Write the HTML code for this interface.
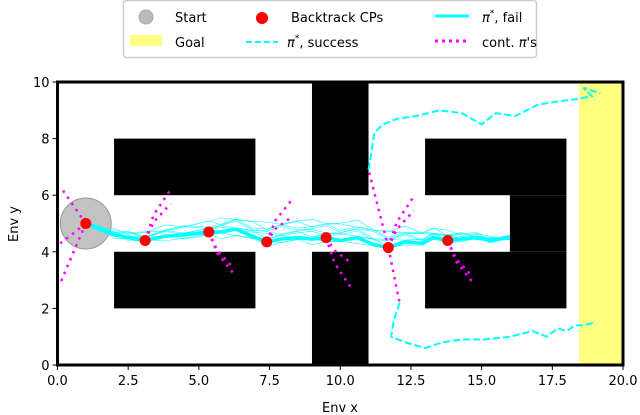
<!DOCTYPE html>
<html><head><meta charset="utf-8"><style>
body{margin:0;background:#fff;width:640px;height:415px;overflow:hidden}
svg{display:block;font-family:"DejaVu Sans","Liberation Sans",sans-serif}
</style></head><body>
<svg id="chart" width="640" height="415">
<g id="walls"></g>
<g id="marks"></g>
<g id="axes"></g>
<g>
<rect x="123.5" y="0.5" width="413" height="57" rx="3" fill="#fff" stroke="#ccc" stroke-width="1.5"/>
<circle cx="146" cy="17" r="7" fill="#bbb" stroke="#aaa"/>
<text x="175" y="22" font-size="13">Start</text>
<rect x="130" y="35" width="32" height="11" fill="#ffff80"/>
<text x="175" y="47" font-size="13">Goal</text>
<circle cx="262" cy="18" r="6" fill="red"/>
<text x="291" y="22" font-size="13">Backtrack CPs</text>
<line x1="246" y1="42" x2="278" y2="42" stroke="cyan" stroke-width="2" stroke-dasharray="6,3"/>
<text x="287" y="47" font-size="13"><tspan font-style="italic">π</tspan><tspan dy="-6" font-size="9">*</tspan><tspan dy="6">, success</tspan></text>
<line x1="435" y1="16" x2="469" y2="16" stroke="cyan" stroke-width="3"/>
<text x="482" y="22" font-size="13"><tspan font-style="italic">π</tspan><tspan dy="-6" font-size="9">*</tspan><tspan dy="6">, fail</tspan></text>
<line x1="435" y1="41" x2="469" y2="41" stroke="#f0f" stroke-width="3" stroke-dasharray="3,4"/>
<text x="482" y="47" font-size="13">cont. <tspan font-style="italic">π</tspan>'s</text>
</g>
</svg>
<script>
const xTicks=[0,2.5,5,7.5,10,12.5,15,17.5,20];
const yTicks=[0,2,4,6,8,10];
const cpX=[3.1,5.35,7.4,9.5,11.7,13.8];
const cpY=[4.4,4.7,4.35,4.5,4.15,4.4];
const failX=[1,1.5,2,2.5,3.1,3.8,4.5,5.35,5.8,6.3,6.9,7.4,7.9,8.5,9,9.5,10,10.6,11.2,11.7,12.3,12.9,13.3,13.8,14.3,14.8,15.3,16];
const failY=[5.0,4.8,4.6,4.5,4.4,4.55,4.6,4.7,4.7,4.8,4.55,4.35,4.45,4.5,4.45,4.5,4.4,4.5,4.25,4.15,4.35,4.3,4.5,4.4,4.45,4.5,4.4,4.5];
const succTopX=[11.0,11.1,11.2,11.5,12,12.7,13.5,14.3,15,15.5,16.2,17,17.6,18.4,18.9,18.6,19.2];
const succTopY=[6.9,7.5,8.2,8.5,8.7,8.8,9.0,8.9,8.5,8.9,8.8,9.2,9.3,9.4,9.5,9.8,9.6];
const succBotX=[12.1,11.9,11.8,12.3,13.0,13.6,14.3,15.1,16.0,16.8,17.3,17.7,18.0,18.3,18.6,19.0];
const succBotY=[2.2,1.6,1.0,0.8,0.6,0.8,0.9,0.9,1.0,1.2,1.0,1.3,1.2,1.4,1.4,1.5];
const thinEndsY=[6.2,5.9,5.5,5.2,4.9,4.6,4.3,4.1,5.7,5.0];
const contDY=[1.8,-1.3,1.5,-0.9];
const NS="http://www.w3.org/2000/svg";
const X0=57.5,X1=623,Y0=365,Y1=82;
const sx=v=>X0+v*(X1-X0)/20, sy=v=>Y0-v*(Y0-Y1)/10;
function mk(p,tag,a){const e=document.createElementNS(NS,tag);for(const k in a)e.setAttribute(k,a[k]);p.appendChild(e);return e;}
const W=document.getElementById('walls'),M=document.getElementById('marks'),A=document.getElementById('axes');
let g=mk(W,'rect',{x:sx(18.45),y:Y1,width:sx(20)-sx(18.45),height:Y0-Y1,fill:'#ffff80'});

const blocks=[[2,6,7,8],[2,2,7,4],[9,6,11,10],[9,0,11,4],[13,6,18,8],[13,2,18,4],[16,4,18,6]];
blocks.forEach(b=>{const r=mk(W,'rect',{x:sx(b[0]),y:sy(b[3]),width:sx(b[2])-sx(b[0]),height:sy(b[1])-sy(b[3]),fill:'#000'});
});
const pts=(xs,ys)=>xs.map((x,i)=>sx(x)+','+sy(ys[i])).join(' ');
let s=mk(M,'circle',{cx:sx(1),cy:sy(5),r:sx(0.9)-sx(0),fill:'#bbb',stroke:'#999','fill-opacity':0.9});

thinEndsY.forEach((ey,k)=>{const xs=[],ys=[];for(let i=0;i<failX.length;i++){xs.push(failX[i]);const t=i/(failX.length-1);ys.push(failY[i]+(ey-failY[i])*Math.sin(Math.PI*t)*0.35+((i+k)%3-1)*0.08);}
const l=mk(M,'polyline',{points:pts(xs,ys),fill:'none',stroke:'cyan','stroke-width':0.7,'stroke-opacity':0.8});
});
cpX.forEach((x,i)=>{[contDY[i%4],-contDY[(i+1)%4]].forEach(d=>{const l=mk(M,'polyline',{points:pts([x,x+0.3,x+0.9],[cpY[i],cpY[i]+d*0.5,cpY[i]+d]),fill:'none',stroke:'#f0f','stroke-width':2.5,'stroke-dasharray':'2.5,5'});
});});
[[1,5,0.1,6.3],[1,5,0.1,2.9],[1,5,0.1,4.3],[11.7,4.15,11,6.9],[11.7,4.15,12.1,2.2]].forEach(c=>{const l=mk(M,'polyline',{points:pts([c[0],c[2]],[c[1],c[3]]),fill:'none',stroke:'#f0f','stroke-width':2.5,'stroke-dasharray':'2.5,5'});
});
[[succTopX,succTopY],[succBotX,succBotY]].forEach(p=>{const l=mk(M,'polyline',{points:pts(p[0],p[1]),fill:'none',stroke:'cyan','stroke-width':2,'stroke-dasharray':'7,3'});
});
let f=mk(M,'polyline',{points:pts(failX,failY),fill:'none',stroke:'cyan','stroke-width':3.5});

let c0=mk(M,'circle',{cx:sx(1),cy:sy(5),r:5.5,fill:'red'});
cpX.forEach((x,i)=>{const c=mk(M,'circle',{cx:sx(x),cy:sy(cpY[i]),r:5.5,fill:'red'});
});
let fr=mk(A,'rect',{x:X0,y:Y1,width:X1-X0,height:Y0-Y1,fill:'none',stroke:'#000','stroke-width':3});

xTicks.forEach(v=>{mk(A,'line',{x1:sx(v),x2:sx(v),y1:Y0,y2:Y0+5,stroke:'#000'});
const t=mk(A,'text',{x:sx(v),y:Y0+20,'font-size':13,'text-anchor':'middle'});t.textContent=v.toFixed(1);
});
yTicks.forEach(v=>{mk(A,'line',{x1:X0-5,x2:X0,y1:sy(v),y2:sy(v),stroke:'#000'});
const t=mk(A,'text',{x:X0-8,y:sy(v)+5,'font-size':13,'text-anchor':'end'});t.textContent=v;
});
let xt=mk(A,'text',{x:340,y:412,'font-size':13,'text-anchor':'middle'});xt.textContent='Env x';

let yt=mk(A,'text',{x:0,y:0,'font-size':13,'text-anchor':'middle',transform:'translate(18,224) rotate(-90)'});yt.textContent='Env y';

</script>
</body></html>
